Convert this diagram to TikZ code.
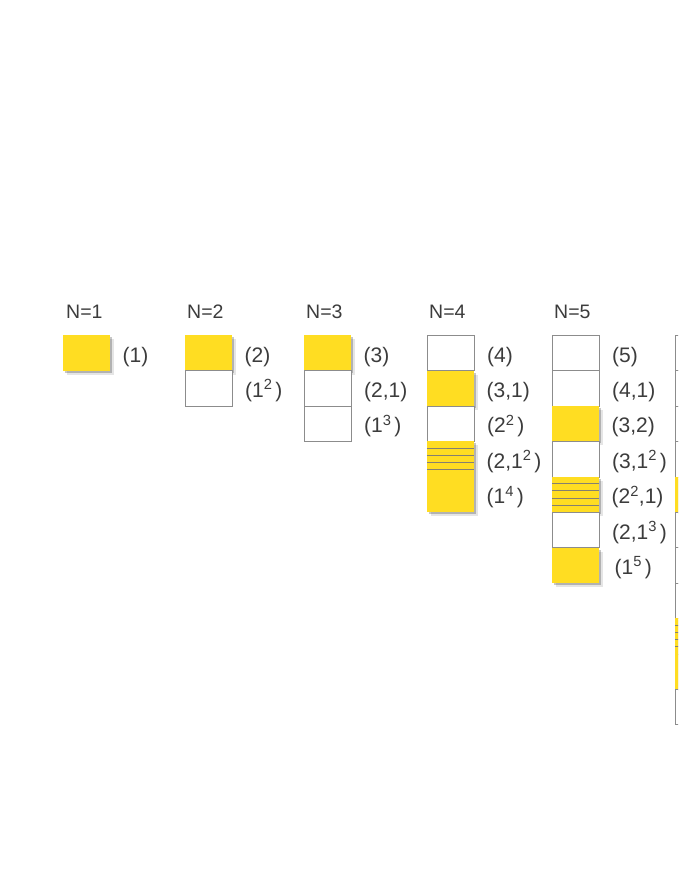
\documentclass[tikz,border=0pt]{standalone}
\usepackage{fontspec}
\setmainfont{Liberation Sans}
\usetikzlibrary{shadows,calc}
\definecolor{cellyellow}{HTML}{FFDD22}
\definecolor{cellline}{HTML}{8C8C8C}
\definecolor{hatchcol}{HTML}{858070}
\definecolor{txt}{HTML}{3C3C3C}
\tikzset{
 cellbase/.style={rectangle, minimum width=47pt, minimum height=35.4pt, inner sep=0pt, anchor=north west},
 wcell/.style={cellbase, fill=white, draw=cellline, line width=0.9pt},
 ycell/.style={cellbase, fill=cellyellow,
   drop shadow={shadow xshift=2pt, shadow yshift=-2pt, opacity=.22, fill=black},
   drop shadow={shadow xshift=4pt, shadow yshift=-4pt, opacity=.10, fill=black}},
 hcell/.style={ycell},
 hatchline/.style={draw=hatchcol, line width=0.9pt},
 lab/.style={anchor=base west, inner sep=0pt, text=txt, font=\fontsize{21}{25}\selectfont},
 head/.style={anchor=base west, inner sep=0pt, text=txt, font=\fontsize{19.5}{23}\selectfont},
}
\newcommand\sq[1]{\textsuperscript{#1}\kern3pt}
% #1 name, #2 type (w/y/h), #3 x, #4 row, #5 label
\newcommand\pcell[5]{%
 \node[#2cell] (#1) at (#3, {335+35.4*#4}) {};
 \ifx h#2\relax
  \foreach \k in {1,...,5}
   \draw[hatchline] ($(#1.north west)!\k/5!(#1.south west)$) -- ($(#1.north east)!\k/5!(#1.south east)$);
 \fi
 \node[lab] (#1l) at ($(#1.north east)+(12pt,-27pt)$) {#5};
}
\newcommand\bcell[4]{%
 \node[#2cell] (#1) at (#3, {335+35.4*#4}) {};
 \ifx h#2\relax
  \foreach \k in {1,...,5}
   \draw[hatchline] ($(#1.north west)!\k/5!(#1.south west)$) -- ($(#1.north east)!\k/5!(#1.south east)$);
 \fi
}
\begin{document}
\begin{tikzpicture}[x=1pt,y=-1pt]
\useasboundingbox (0,0) rectangle (678,877);
\clip (0,0) rectangle (678,877);
\fill[white] (0,0) rectangle (678,877);
% headers
\node[head] (h1) at (66,318) {N=1};
\node[head] (h2) at (187,318) {N=2};
\node[head] (h3) at (306,318) {N=3};
\node[head] (h4) at (429,318) {N=4};
\node[head] (h5) at (554,318) {N=5};
% N=1
\pcell{a1}{y}{63}{0}{(1)}
% N=2
\pcell{b1}{y}{185}{0}{(2)}
\pcell{b2}{w}{185}{1}{(1\sq{2})}
% N=3
\pcell{c1}{y}{304}{0}{(3)}
\pcell{c2}{w}{304}{1}{(2,1)}
\pcell{c3}{w}{304}{2}{(1\sq{3})}
% N=4
\pcell{d1}{w}{427}{0}{(4)}
\pcell{d2}{y}{427}{1}{(3,1)}
\pcell{d3}{w}{427}{2}{(2\sq{2})}
\pcell{d4}{h}{427}{3}{(2,1\sq{2})}
\pcell{d5}{y}{427}{4}{(1\sq{4})}
% N=5
\pcell{e1}{w}{552}{0}{(5)}
\pcell{e2}{w}{552}{1}{(4,1)}
\pcell{e3}{y}{552}{2}{(3,2)}
\pcell{e4}{w}{552}{3}{(3,1\sq{2})}
\pcell{e5}{h}{552}{4}{(2\textsuperscript{2},1)}
\pcell{e6}{w}{552}{5}{(2,1\sq{3})}
\node[ycell] (e7) at (552, {335+35.4*6}) {};
\node[lab] (e7l) at ($(e7.north east)+(15pt,-27pt)$) {(1\sq{5})};
% N=6 (cut off at the right edge)
\bcell{f1}{w}{675}{0}
\bcell{f2}{w}{675}{1}
\bcell{f3}{w}{675}{2}
\bcell{f4}{w}{675}{3}
\bcell{f5}{y}{675}{4}
\bcell{f6}{w}{675}{5}
\bcell{f7}{w}{675}{6}
\bcell{f8}{w}{675}{7}
\bcell{f9}{h}{675}{8}
\bcell{f10}{y}{675}{9}
\bcell{f11}{w}{675}{10}
\end{tikzpicture}
\end{document}
